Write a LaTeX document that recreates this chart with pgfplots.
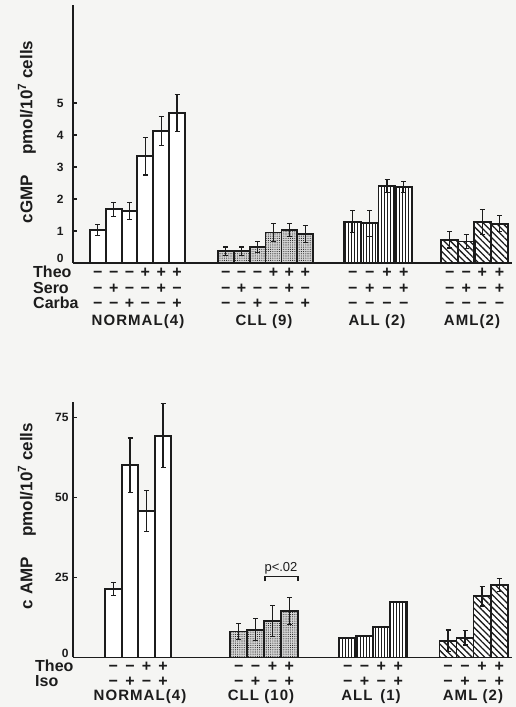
\documentclass[border=0pt]{standalone}
\usepackage{fontspec}
\setmainfont{Liberation Sans}
\newfontfamily\grp[LetterSpace=7]{Liberation Sans}
\usepackage{pgfplots}
\pgfplotsset{compat=1.18}
\usetikzlibrary{patterns,patterns.meta}

\definecolor{ink}{HTML}{1C1C1C}
\definecolor{paper}{HTML}{F5F5F3}

% sign stacks under the bars
\newcommand{\sr}{\rule[-2.5pt]{0pt}{12pt}}
\newcommand{\mi}{\sr−}
\newcommand{\pl}{\sr+}

\pgfplotsset{
  panel/.style={
    scale only axis, anchor=south west,
    xmin=73, xmax=512, width=439pt, ymin=0,
    axis lines=left, axis line style={-, line width=1.8pt, ink},
    tick align=inside, major tick length=4pt,
    ytick style={line width=1.2pt, ink},
    xtick style={draw=none},
    xticklabel style={font=\fontsize{16}{15.5}\selectfont\bfseries, align=center,
      inner sep=0pt, yshift=-5pt, text=ink},
    yticklabel style={font=\fontsize{12}{14}\selectfont\bfseries, text=ink},
    /pgf/number format/assume math mode=true,
    clip=false,
  },
  bars/.style={ybar, bar shift=0pt, draw=ink, line width=1.8pt,
    error bars/y dir=both, error bars/y explicit,
    error bars/error bar style={line width=1.1pt, ink},
    error bars/error mark options={rotate=90, mark size=2.5pt, line width=1.1pt, ink}},
  cll/.style={fill=black!17, postaction={pattern={Dots[distance=2.2pt, radius=0.55pt]}, pattern color=ink}},
  all/.style={fill=white, postaction={pattern={Lines[angle=90, distance=3pt, line width=0.7pt]}, pattern color=ink}},
  aml/.style={fill=white, postaction={pattern={Lines[angle=-45, distance=4.5pt, line width=1.3pt]}, pattern color=ink}},
}

\begin{document}
\begin{tikzpicture}
\path[use as bounding box, fill=paper] (0,0) rectangle (516pt,707pt);

% ---------------- cGMP ----------------
\begin{axis}[panel, at={(73pt,444pt)}, height=258pt, ymax=8.06,
  ytick={1,2,3,4,5}, yticklabel style={xshift=-6pt},
  extra y ticks={0}, extra y tick style={yticklabel style={yshift=5pt}},
  xtick={97.9,113.7,129.5,145.3,161.2,177.0,
         225.7,241.6,257.6,273.5,289.4,305.3,
         352.7,369.7,387.0,403.7,
         449.7,466.2,482.4,499.5},
  xticklabels={{\mi\\\mi\\\mi},{\mi\\\pl\\\mi},{\mi\\\mi\\\pl},{\pl\\\mi\\\mi},{\pl\\\pl\\\mi},{\pl\\\mi\\\pl},
               {\mi\\\mi\\\mi},{\mi\\\pl\\\mi},{\mi\\\mi\\\pl},{\pl\\\mi\\\mi},{\pl\\\pl\\\mi},{\pl\\\mi\\\pl},
               {\mi\\\mi\\\mi},{\mi\\\pl\\\mi},{\pl\\\mi\\\mi},{\pl\\\pl\\\mi},
               {\mi\\\mi\\\mi},{\mi\\\pl\\\mi},{\pl\\\mi\\\mi},{\pl\\\pl\\\mi}},
]
\addplot[bars, bar width=15.85pt, fill=white] coordinates {
  (97.9,1.03) +- (0,0.17) (113.7,1.68) +- (0,0.22) (129.5,1.63) +- (0,0.27)
  (145.3,3.34) +- (0,0.59) (161.2,4.13) +- (0,0.45) (177.0,4.68) +- (0,0.58)};
\addplot[bars, bar width=15.9pt, cll] coordinates {
  (225.7,0.37) +- (0,0.13) (241.6,0.37) +- (0,0.13) (257.6,0.50) +- (0,0.16)
  (273.5,0.95) +- (0,0.28) (289.4,1.03) +- (0,0.21) (305.3,0.90) +- (0,0.27)};
\addplot[bars, bar width=16.9pt, all] coordinates {
  (352.7,1.29) +- (0,0.35) (369.7,1.24) +- (0,0.40)
  (387.0,2.41) +- (0,0.20) (403.7,2.38) +- (0,0.17)};
\addplot[bars, bar width=16.8pt, aml] coordinates {
  (449.7,0.72) +- (0,0.25) (466.2,0.67) +- (0,0.23)
  (482.4,1.28) +- (0,0.40) (499.5,1.23) +- (0,0.25)};
\end{axis}

\node[anchor=north west, inner sep=0pt, align=left, text=ink,
  font=\fontsize{16}{15.5}\selectfont\bfseries] at (33pt,441pt)
  {\sr Theo\\\sr Sero\\\sr Carba};
\begin{scope}[every node/.style={text=ink, font=\fontsize{15}{18}\selectfont\grp\bfseries}]
\node at (138pt,385pt) {NORMAL(4)};
\node at (264pt,385pt) {CLL (9)};
\node at (377pt,385pt) {ALL (2)};
\node at (472pt,385pt) {AML(2)};
\end{scope}
\node[rotate=90, text=ink, font=\fontsize{17}{20}\selectfont\bfseries] at (27pt,575pt)
  {cGMP\hspace{1.2em}pmol/10\textsuperscript{7} cells};

% ---------------- cAMP ----------------
\begin{axis}[panel, at={(73pt,49.5pt)}, height=256pt, ymax=80,
  ytick={25,50,75}, yticklabel style={xshift=-1pt},
  extra y ticks={0}, extra y tick style={yticklabel style={yshift=4.5pt}},
  xticklabel style={font=\fontsize{16}{15}\selectfont\bfseries, yshift=1pt},
  xtick={113.3,130.0,146.5,163.0, 238.8,255.6,272.5,289.3,
         347.7,364.5,381.2,398.3, 448.0,465.0,482.0,499.2},
  xticklabels={{\mi\\\mi},{\mi\\\pl},{\pl\\\mi},{\pl\\\pl},
               {\mi\\\mi},{\mi\\\pl},{\pl\\\mi},{\pl\\\pl},
               {\mi\\\mi},{\mi\\\pl},{\pl\\\mi},{\pl\\\pl},
               {\mi\\\mi},{\mi\\\pl},{\pl\\\mi},{\pl\\\pl}},
]
\addplot[bars, bar width=16.7pt, fill=white] coordinates {
  (113.3,21.3) +- (0,2.0) (130.0,60.1) +- (0,8.5)
  (146.5,45.8) +- (0,6.5) (163.0,69.3) +- (0,10.0)};
\addplot[bars, bar width=16.9pt, cll] coordinates {
  (238.8,8.1) +- (0,2.6) (255.6,8.7) +- (0,3.5)
  (272.5,11.5) +- (0,4.8) (289.3,14.6) +- (0,4.2)};
\addplot[ybar, bar shift=0pt, draw=ink, line width=1.8pt, bar width=17pt, all] coordinates {
  (347.7,6.1) (364.5,6.8) (381.2,9.5) (398.3,17.3)};
\addplot[bars, bar width=17.1pt, aml] coordinates {
  (448.0,5.2) +- (0,3.4) (465.0,6.1) +- (0,2.2)
  (482.0,19.1) +- (0,3.0) (499.2,22.7) +- (0,2.0)};
\draw[ink, line width=1.1pt] (axis cs:265,23.9) -- (axis cs:265,25.2)
  -- (axis cs:298,25.2) -- (axis cs:298,23.9);
\node[anchor=base, text=ink, font=\fontsize{13}{15}\selectfont] at (axis cs:281,27) {p<.02};
\end{axis}

\node[anchor=north west, inner sep=0pt, align=left, text=ink,
  font=\fontsize{16}{15}\selectfont\bfseries] at (35pt,47pt)
  {\sr Theo\\\sr Iso};
\begin{scope}[every node/.style={text=ink, font=\fontsize{15}{18}\selectfont\grp\bfseries}]
\node at (140pt,10pt) {NORMAL(4)};
\node at (261pt,10pt) {CLL (10)};
\node at (371pt,10pt) {ALL\, (1)};
\node at (473pt,10pt) {AML (2)};
\end{scope}
\node[rotate=90, text=ink, font=\fontsize{17}{20}\selectfont\bfseries] at (27pt,191pt)
  {c AMP\hspace{1.2em}pmol/10\textsuperscript{7} cells};
\end{tikzpicture}
\end{document}
